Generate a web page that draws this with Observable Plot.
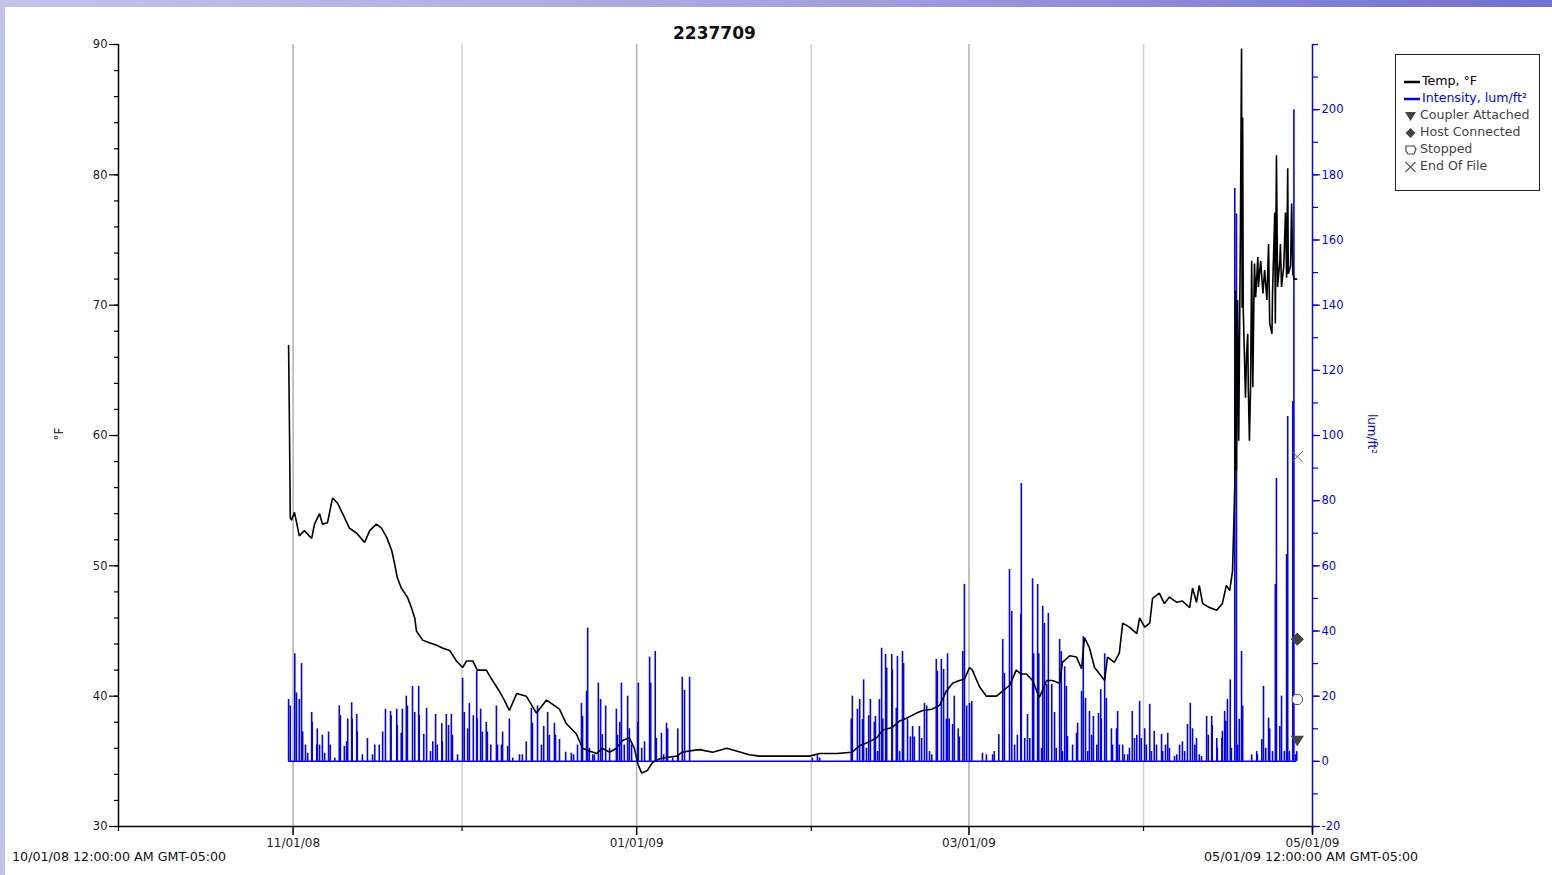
<!DOCTYPE html>
<html>
<head>
<meta charset="utf-8">
<script src="https://cdn.jsdelivr.net/npm/d3@7"></script>
<script src="https://cdn.jsdelivr.net/npm/@observablehq/plot@0.6"></script>
<style>
  html, body { margin: 0; padding: 0; }
  body { width: 1552px; height: 875px; position: relative; overflow: hidden;
         background: linear-gradient(90deg, #c3c3ea 0%, #a4a4e0 50%, #7070d0 100%);
         font-family: "DejaVu Sans", Verdana, sans-serif; }
  #sheet { position: absolute; left: 5px; top: 7px; width: 1547px; height: 868px; background: #fff; }
  #chart { position: absolute; left: 0; top: 0; }
  .lbl { position: absolute; white-space: nowrap; color: #111; }
  #legend { position: absolute; left: 1395px; top: 54px; width: 143px; height: 135px;
            border: 1.5px solid #222; background: #fff; }
  .item { position: absolute; left: 8px; height: 17px; line-height: 17px; font-size: 12.6px; white-space: nowrap; }
  .item svg { vertical-align: middle; margin-right: 2px; }
</style>
</head>
<body>
<div id="sheet"></div>
<div id="chart"></div>
<div class="lbl" style="left:673px; top:23px; font-size:17px; font-weight:bold;">2237709</div>
<div class="lbl" style="left:53px; top:427px; font-size:12px; transform:rotate(-90deg);">°F</div>
<div class="lbl" style="left:1352px; top:427px; font-size:12px; color:#0000ff; transform:rotate(90deg);">lum/ft²</div>
<div class="lbl" style="left:12px; top:849px; font-size:12.7px;">10/01/08 12:00:00 AM GMT-05:00</div>
<div class="lbl" style="left:1204px; top:849px; font-size:12.7px;">05/01/09 12:00:00 AM GMT-05:00</div>
<div id="legend">
  <div class="item" style="top:17px;color:#000"><svg width="16" height="10"><line x1="0" y1="5" x2="16" y2="5" stroke="#000" stroke-width="2.5"/></svg>Temp, °F</div>
  <div class="item" style="top:34px;color:#0000ff"><svg width="16" height="10"><line x1="0" y1="5" x2="16" y2="5" stroke="#0000ff" stroke-width="2.5"/></svg>Intensity, lum/ft²</div>
  <div class="item" style="top:51px;color:#444"><svg width="14" height="12"><path d="M1,2 L12,2 L6.5,11 Z" fill="#444"/></svg>Coupler Attached</div>
  <div class="item" style="top:68px;color:#444"><svg width="14" height="12"><path d="M6.5,1 L11.5,6 L6.5,11 L1.5,6 Z" fill="#444"/></svg>Host Connected</div>
  <div class="item" style="top:85px;color:#444"><svg width="14" height="12"><path d="M2,2 L10,2 L12,5 L10,10 L4,10 L2,7 Z" fill="#fff" stroke="#444" stroke-width="1.2"/></svg>Stopped</div>
  <div class="item" style="top:102px;color:#444"><svg width="14" height="12"><path d="M1.5,1 L11.5,11 M11.5,1 L1.5,11" stroke="#555" stroke-width="1.1"/></svg>End Of File</div>
</div>
<script>
// ---------- data (days since 10/01/08 00:00) ----------
const tempDay = [30.2,30.36,30.5,30.7,31.25,32.1,33.0,34.3,34.8,35.7,36.2,37.1,38.0,38.9,39.8,41.0,42.3,43.7,44.6,45.8,46.7,47.6,48.5,49.0,49.5,50.2,51.3,52.0,52.6,52.9,54.0,55.2,56.5,57.5,58.8,60.0,61.1,61.8,62.9,63.7,65.3,66.4,67.6,68.5,69.4,70.7,72.4,74.2,76.0,78.3,79.5,81.3,82.4,83.6,84.9,85.9,87.2,88.4,89.5,90.7,91.6,92.2,92.9,93.9,94.8,96.1,97.3,99.1,100.1,101.4,103.2,105.5,108.0,109.7,112.0,113.8,122.7,124.5,127.5,130.3,131.6,132.8,134.6,135.7,137.4,138.7,139.9,141.7,142.8,144.4,145.8,147.0,148.1,149.3,150.2,151.1,151.6,152.9,154.1,155.9,157.0,158.2,159.4,160.3,161.2,162.3,163.5,164.8,165.8,167.1,167.6,168.9,170.1,171.0,171.5,172.4,173.3,174.2,175.1,175.6,176.8,177.7,178.3,179.5,180.8,181.3,182.2,183.1,183.6,184.8,185.7,186.6,187.9,188.9,190.2,190.7,191.4,191.9,192.5,193.7,195.0,196.0,196.7,197.3,197.8,198.2,198.3,198.5,198.7,198.9,199.2,199.4,199.5,199.6,199.7,199.9,200.1,200.3,200.5,200.6,200.8,201.0,201.2,201.4,201.6,201.7,201.9,202.3,202.4,202.8,203.2,203.5,203.9,204.2,204.4,204.8,204.9,205.3,205.4,205.6,205.8,206.2,206.3,206.5,206.9,207.2,207.4,207.6,207.7,208.1,208.3,208.5,208.8,209.2];
const tempF = [66.9,60.4,53.7,53.5,54.1,52.3,52.7,52.1,53.2,54.0,53.2,53.3,55.2,54.8,54.0,52.9,52.5,51.8,52.7,53.2,52.9,52.2,51.2,50.2,49.1,48.3,47.6,46.8,46.0,45.0,44.3,44.1,43.9,43.7,43.5,42.7,42.2,42.7,42.7,42.0,42.0,41.2,40.4,39.7,38.9,40.2,40.0,38.7,39.7,39.0,37.9,37.1,36.0,35.8,35.6,36.0,35.7,36.0,36.6,36.8,36.0,34.8,34.1,34.3,34.9,35.2,35.3,35.4,35.7,35.8,35.9,35.7,36.0,35.8,35.5,35.4,35.4,35.6,35.6,35.7,36.2,36.4,36.8,37.4,37.6,38.1,38.3,38.7,38.9,39.0,39.3,40.4,41.0,41.2,41.3,42.2,42.0,40.7,40.0,40.0,40.4,40.8,42.0,41.7,41.7,41.2,39.9,41.2,41.2,41.0,42.6,43.1,43.0,42.1,44.5,43.7,42.2,41.7,41.2,43.0,42.6,43.3,45.6,45.3,44.8,46.0,45.3,45.6,47.5,47.9,47.1,47.6,47.2,47.3,46.8,48.3,47.2,48.5,47.1,46.8,46.6,47.1,48.5,48.1,49.6,56.0,71.1,57.3,70.4,59.6,75.7,89.7,69.8,84.4,69.8,66.3,62.9,66.3,67.8,63.7,59.6,63.7,73.4,63.7,70.6,73.2,70.6,73.7,71.4,73.4,70.9,72.7,70.4,74.7,68.6,67.8,70.9,77.1,68.6,81.5,71.4,73.4,74.7,71.4,73.0,77.1,72.1,80.5,72.4,73.0,77.8,72.4,72.0,72.0];

const lightDay = [30.2,30.5,31.3,31.6,32.1,32.5,32.7,33.2,33.6,34.3,34.4,35.2,35.3,35.7,36.2,36.6,37.3,37.6,38.4,39.2,39.4,40.1,40.5,40.7,41.4,41.5,42.3,42.4,43.3,44.2,45.1,45.5,46.3,46.9,47.4,48.3,48.4,49.4,49.5,50.2,50.4,51.1,51.3,52.2,52.6,53.3,53.4,54.2,54.7,55.4,55.8,56.3,56.6,57.4,57.5,58.2,58.6,59.1,59.3,60.2,61.1,61.4,62.0,62.3,63.0,63.6,63.7,64.3,64.6,65.3,65.5,66.1,67.1,67.3,68.0,68.2,69.1,69.4,70.0,71.2,71.7,72.4,73.3,73.5,74.4,75.1,75.5,76.2,76.5,77.4,77.6,78.3,79.4,80.4,80.8,81.5,82.2,82.4,83.1,83.3,83.6,84.2,84.5,85.2,85.6,85.9,86.5,87.2,88.4,88.6,89.0,89.3,89.8,90.4,90.7,91.1,92.2,92.3,92.9,93.4,94.3,94.5,95.3,95.5,96.4,96.8,97.3,97.5,98.4,99.3,99.4,100.1,100.5,101.4,123.2,124.1,124.5,130.1,130.3,131.2,131.6,132.1,132.3,132.8,133.2,133.5,134.2,134.4,134.8,135.1,135.5,135.7,136.2,136.4,137.3,137.4,138.1,138.3,138.7,139.2,139.4,140.1,140.6,141.0,141.3,142.2,142.6,143.1,143.5,144.0,144.4,145.2,145.4,146.1,146.5,147.0,147.2,147.5,148.1,148.4,149.1,149.3,149.9,150.2,150.6,151.1,151.5,153.4,154.1,155.2,155.5,156.3,157.0,157.3,158.2,158.6,159.1,159.6,160.2,160.3,160.9,161.4,161.8,162.3,162.5,163.2,163.4,163.9,164.1,164.4,164.8,165.1,165.7,166.2,166.5,167.1,167.4,167.6,168.0,168.3,168.5,169.4,170.1,170.3,171.0,171.3,171.7,172.1,172.4,172.8,173.1,173.7,174.0,174.4,174.5,175.1,175.4,176.3,176.5,177.2,177.4,177.7,178.3,178.6,179.2,179.5,180.0,180.4,180.8,181.3,181.6,182.2,182.5,183.1,183.4,183.9,184.3,185.2,185.4,185.9,186.3,186.6,187.5,187.9,188.4,188.9,189.3,189.8,190.3,190.7,191.1,191.4,191.9,192.3,193.2,193.5,194.1,194.2,195.0,195.1,195.9,196.0,196.4,196.6,196.9,197.4,197.6,198.2,198.5,198.7,199.0,199.4,199.6,201.2,202.1,202.2,203.0,203.3,203.7,204.2,204.4,204.9,205.4,205.6,206.2,206.5,207.0,207.4,207.6,207.9,208.5,208.7,209.0,209.2];
const lightLum = [19,17,33,21,19,30,9,5,2.5,15,12,5,10,5,8,2.5,9,5,1,17,14,4.6,6,13,18,13,14.4,9,2,7,2,5,5,9,16,15.3,14,16,11,8.6,16,20,17,23,15,23,14,8.3,16.3,3,6,14.4,5,11.6,6,14.4,11,14.4,8,2,25.5,15,10,17.8,14,27.6,13,16,9,12,9,5,17,5,5,9,4.6,13,1,2,2,6,16.3,11.7,17,5,10.7,15,8,11.7,8,6.7,2.8,2.5,2,5,17.8,13.8,21.5,40.9,4,2,2,24,19,8.2,17,4,16,8,12,24,5,20,10,5,12,24,4,6,32,24,33.7,7,8.6,2,11.7,10,1,10,2,25.8,21.8,25.8,1,2,1,13,20,16,19,12.8,25,4,14,19,12,13.8,3,19,34.7,13,32.8,28.6,32.8,28,16.3,32.2,3,33.7,30,12.9,7.5,10.7,7.5,10.7,7,17.8,17,3,2,31.3,27.6,31.3,28.2,12.9,33,13,11.3,20,10,7.5,33.7,54.3,17,17.8,18.4,2.5,2,2,3,8.2,37.4,27,58.9,46,5,8,45,85.3,7,14.4,7,56,33,54.3,33,4,47.6,42.3,23.6,45.4,23.6,15,4,37.4,33.7,3,29,23,7.6,5,8.6,11.7,21.5,38.3,19.3,3,15.3,8,13.8,5,14.7,22,13,33,19.3,10,5,10,15.3,5,5,2,2,4,15.3,7,8,18.4,7,10,5,17.5,3,9.2,5,8.3,3,5,8.6,4,1.5,2,5,6,3,11.3,17.8,10,5,7,2,1.5,13.8,8,13.8,11,7,4,7,9.2,15.3,12.3,19,25,4,175.8,168,5,12.9,33.7,17,2,3,2,6.7,23,4,13.3,10,3,54.3,86.8,10.7,20,3,63.5,105.8,3,110.4,200,2,3];

const eventNames = ["End Of File", "Host Connected", "Stopped", "Coupler Attached"];
const eventDay   = [209.3, 209.3, 209.3, 209.3];
const eventLum   = [93.5, 37.5, 19, 6.5];

const tempTicksMajor = [30, 40, 50, 60, 70, 80, 90];
const lumTicksMajor = [-20, 0, 20, 40, 60, 80, 100, 120, 140, 160, 180, 200];
const monthLabels = ["2008-11-01", "2009-01-01", "2009-03-01", "2009-05-01"];
const monthGrid = ["2008-11-01", "2008-12-01", "2009-01-01", "2009-02-01", "2009-03-01", "2009-04-01"];

// ---------- helpers ----------
const DAY0 = Date.UTC(2008, 9, 1);
const toDate = d => new Date(DAY0 + d * 864e5);
const iso = s => new Date(s + "T00:00:00Z");
// right axis (lum/ft², -20..220) mapped onto left axis (°F, 30..90)
const lumToF = v => 35 + v / 4;
const fToLum = t => Math.round((t - 35) * 4);

const temp = tempDay.map((d, i) => ({date: toDate(d), t: tempF[i]}));
const light = lightDay.map((d, i) => ({date: toDate(d), v: lightLum[i]}));
const events = eventNames.map((n, i) => ({name: n, date: toDate(eventDay[i]), v: eventLum[i]}));

const xStart = iso("2008-10-01"), xEnd = iso("2009-05-01");
const BLUE = "#0000ff";

const triDown = {draw(ctx, size) {
  const r = Math.sqrt(size / Math.PI);
  ctx.moveTo(-r * 1.1, -r * 0.75); ctx.lineTo(r * 1.1, -r * 0.75); ctx.lineTo(0, r * 1.05); ctx.closePath();
}};
const octa = {draw(ctx, size) {
  const r = Math.sqrt(size / Math.PI);
  for (let k = 0; k < 8; k++) {
    const a = Math.PI / 8 + k * Math.PI / 4;
    const px = r * Math.cos(a), py = r * Math.sin(a);
    k ? ctx.lineTo(px, py) : ctx.moveTo(px, py);
  }
  ctx.closePath();
}};

const chart = Plot.plot({
  width: 1552, height: 875,
  marginLeft: 118, marginRight: 240, marginTop: 44, marginBottom: 49,
  style: {fontFamily: "'DejaVu Sans', Verdana, sans-serif", fontSize: "12px", background: "transparent", overflow: "visible"},
  x: {type: "utc", domain: [xStart, xEnd], axis: null},
  y: {domain: [30, 90], axis: null},
  color: {domain: ["a", "b"], range: ["#b0b0b0", "#d0d0d0"]},
  marks: [
    // month gridlines
    Plot.ruleX(monthGrid.map(iso), {stroke: d => (monthLabels.includes(d.toISOString().slice(0,10)) ? "a" : "b"), strokeWidth: 1.5}),
    // axes lines
    Plot.ruleY([30], {stroke: "#000", strokeWidth: 1.5}),
    Plot.ruleX([xStart], {stroke: "#000", strokeWidth: 1.5}),
    Plot.ruleX([xEnd], {stroke: BLUE, strokeWidth: 1.5, y1: 29.5, y2: 90}),
    // left axis
    Plot.axisY({anchor: "left", ticks: tempTicksMajor, tickSize: 9, tickPadding: 2, label: null, stroke: "#000", strokeWidth: 1.2, fill: "#222", fontSize: 11.5}),
    Plot.axisY({anchor: "left", ticks: d3.range(30, 90.1, 2), tickSize: 4, tickFormat: () => "", label: null, stroke: "#000", strokeWidth: 1.2}),
    // right axis
    Plot.axisY({anchor: "right", ticks: lumTicksMajor.map(lumToF), tickFormat: fToLum, tickSize: 7, tickPadding: 2, label: null, stroke: BLUE, fill: BLUE, strokeWidth: 1.2, fontSize: 11.5}),
    Plot.axisY({anchor: "right", ticks: d3.range(-20, 220.1, 10).map(lumToF), tickFormat: () => "", tickSize: 5, label: null, stroke: BLUE, strokeWidth: 1.2}),
    // bottom axis
    Plot.axisX({ticks: monthLabels.map(iso), tickFormat: d3.utcFormat("%m/%d/%y"), tickSize: 9, tickPadding: 3, label: null, stroke: "#000", fill: "#222", strokeWidth: 1.5, fontSize: 12}),
    Plot.axisX({ticks: ["2008-10-01", "2008-12-01", "2009-02-01", "2009-04-01"].map(iso), tickFormat: () => "", tickSize: 5, label: null, stroke: "#000", strokeWidth: 1.2}),
    // intensity baseline + spikes
    Plot.ruleY([lumToF(0)], {x1: light[0].date, x2: light[light.length - 1].date, stroke: BLUE, strokeWidth: 1.5}),
    Plot.ruleX(light, {x: "date", y1: () => lumToF(0), y2: d => lumToF(d.v), stroke: BLUE, strokeWidth: 1.6}),
    // temperature
    Plot.line(temp, {x: "date", y: "t", stroke: "#000", strokeWidth: 1.6, strokeLinejoin: "miter"}),
    // event markers
    Plot.dot(events.filter(e => e.name === "End Of File"), {x: "date", y: d => lumToF(d.v), symbol: "times", r: 5, stroke: "#666", strokeWidth: 1}),
    Plot.dot(events.filter(e => e.name === "Host Connected"), {x: "date", y: d => lumToF(d.v), symbol: "diamond2", r: 6, fill: "#444", stroke: "none"}),
    Plot.dot(events.filter(e => e.name === "Stopped"), {x: "date", y: d => lumToF(d.v), symbol: octa, r: 5.5, fill: "#fff", stroke: "#555", strokeWidth: 1}),
    Plot.dot(events.filter(e => e.name === "Coupler Attached"), {x: "date", y: d => lumToF(d.v), symbol: triDown, r: 6, fill: "#444", stroke: "none"})
  ]
});
document.getElementById("chart").appendChild(chart);
</script>
</body>
</html>
